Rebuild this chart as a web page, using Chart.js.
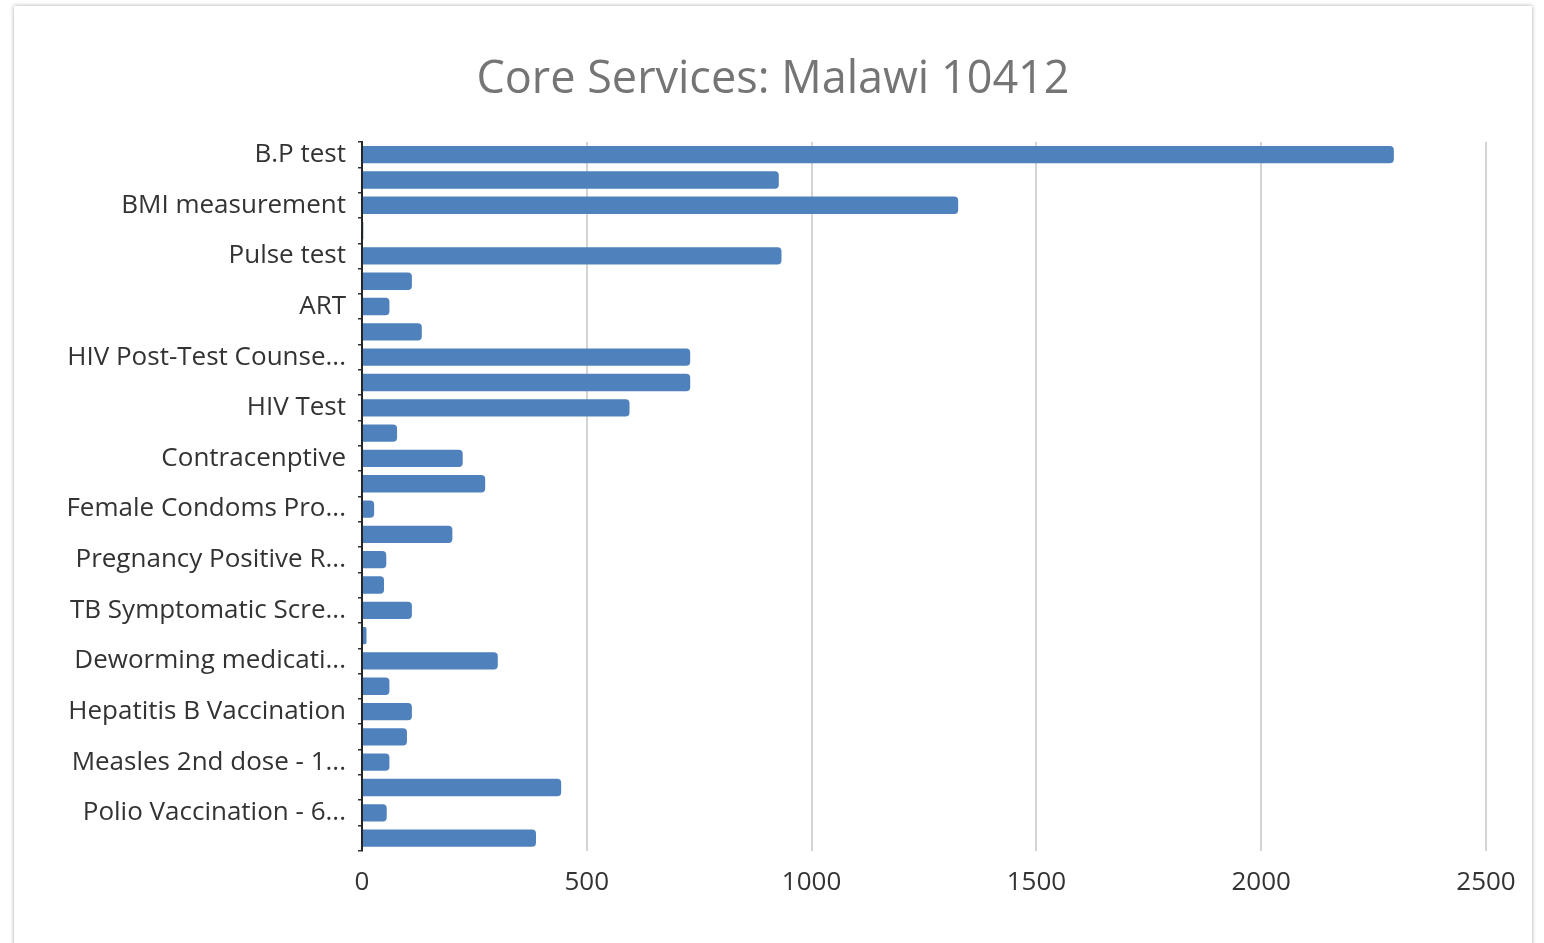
<!DOCTYPE html>
<html>
<head>
<meta charset="utf-8">
<script src="https://cdn.jsdelivr.net/npm/chart.js@4/dist/chart.umd.min.js"></script>
<style>
  body { margin: 0; background: #ffffff; overflow: hidden; }
  #card {
    position: absolute; left: 14px; top: 6px;
    width: 1518px; height: 960px;
    background: #fff;
    box-shadow: 0 0 4px rgba(0,0,0,0.35);
  }
</style>
</head>
<body>
<div id="card"><canvas id="servicesChart" width="1518" height="937"></canvas></div>
<script>
// Categories (only every other one is labelled on the axis, as in the original)
var categories = [
  "B.P test", "", "BMI measurement", "", "Pulse test", "", "ART", "",
  "HIV Post-Test Counse...", "", "HIV Test", "", "Contracenptive", "",
  "Female Condoms Pro...", "", "Pregnancy Positive R...", "", "TB Symptomatic Scre...", "",
  "Deworming medicati...", "", "Hepatitis B Vaccination", "", "Measles 2nd dose - 1...", "",
  "Polio Vaccination - 6...", ""
];

var serviceCounts = [
  2295, 927, 1326, 3, 933, 111, 61, 133,
  730, 730, 595, 78, 224, 274,
  27, 201, 54, 49, 111, 10,
  302, 61, 111, 100, 61, 443,
  55, 387
];

var xTicks = [0, 500, 1000, 1500, 2000, 2500];

var ctx = document.getElementById('servicesChart').getContext('2d');
var myChart = new Chart(ctx, {
    type: 'bar',
    data: {
        labels: categories,
        datasets: [{
            label: 'Core Services',
            data: serviceCounts,
            backgroundColor: '#4f81bd',
            borderRadius: 4,
            borderSkipped: 'start',
            barPercentage: 0.685,
            categoryPercentage: 1.0
        }]
    },
    options: {
        indexAxis: 'y',
        responsive: false,
        animation: false,
        layout: { padding: { left: 46, right: 46, top: 0, bottom: 29 } },
        plugins: {
            legend: { display: false },
            tooltip: { enabled: false },
            title: {
                display: true,
                text: 'Core Services: Malawi 10412',
                color: '#757575',
                font: { family: 'Open Sans', size: 45, weight: 'normal' },
                padding: { top: 47, bottom: 35 }
            }
        },
        scales: {
            x: {
                min: 0,
                max: 2500,
                afterBuildTicks: function (scale) {
                    scale.ticks = xTicks.map(function (v) { return { value: v }; });
                },
                grid: { color: '#d4d4d4', lineWidth: 2, drawTicks: false },
                border: { display: false },
                ticks: {
                    color: '#333333',
                    padding: 16,
                    font: { family: 'Open Sans', size: 26 },
                    callback: function (value) { return String(value); }
                }
            },
            y: {
                afterFit: function (scale) { scale.width = 302; },
                grid: {
                    drawOnChartArea: false,
                    drawTicks: true,
                    tickLength: 4,
                    color: '#333333',
                    lineWidth: 1.5
                },
                border: { display: true, color: '#262626', width: 2 },
                ticks: {
                    autoSkip: false,
                    color: '#333333',
                    padding: 12,
                    font: { family: 'Open Sans', size: 26 }
                }
            }
        }
    }
});
</script>
</body>
</html>
